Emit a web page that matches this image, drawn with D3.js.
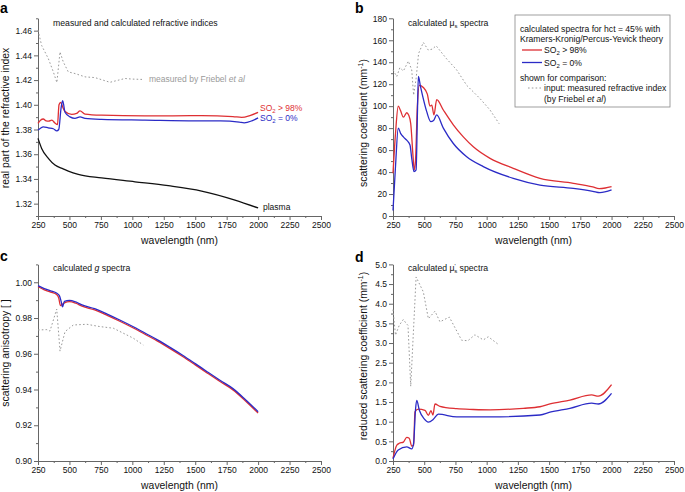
<!DOCTYPE html>
<html><head><meta charset="utf-8">
<script src="https://cdn.jsdelivr.net/npm/d3@7"></script>
<style>
body{margin:0;background:#fff}
svg{display:block;font-family:"Liberation Sans",Arial,sans-serif}
</style>
</head><body>
<svg id="chart" width="685" height="492"></svg>
<script>
// ---------- shared ticks ----------
const xTickValues = [250,500,750,1000,1250,1500,1750,2000,2250,2500];
const xMinorValues = [375,625,875,1125,1375,1625,1875,2125,2375];

// ---------- panel a : refractive index ----------
const aMeasWl = [250,279,332,372,400,425,451,491,544,624,703,822,942,1000,1087];
const aMeas   = [1.4603,1.4480,1.4374,1.4266,1.4180,1.4428,1.4347,1.4266,1.4253,1.4226,1.4220,1.4182,1.4213,1.4208,1.4205];
const aRedWl  = [250,270,292,315,335,360,385,405,417,430,445,465,518,557,584,624,756,1100,1551,1800,1869,1940,2000];
const aRed    = [1.3849,1.3875,1.3885,1.3870,1.3868,1.3876,1.3852,1.3840,1.4000,1.4020,1.3985,1.3945,1.3922,1.3930,1.3950,1.3925,1.3916,1.3910,1.3912,1.3905,1.3898,1.3915,1.3938];
const aBlueWl = [250,270,292,332,372,399,415,433,446,465,504,544,584,624,756,1100,1500,1700,1850,1889,1950,2000];
const aBlue   = [1.3795,1.3810,1.3822,1.3814,1.3806,1.3789,1.3800,1.3970,1.4034,1.3940,1.3902,1.3890,1.3902,1.3890,1.3882,1.3876,1.3870,1.3870,1.3860,1.3854,1.3870,1.3894];
const aPlasmaWl = [250,279,332,385,450,491,570,756,1021,1286,1551,1816,2000];
const aPlasma   = [1.3728,1.3647,1.3566,1.3512,1.3482,1.3464,1.3437,1.3408,1.3377,1.3345,1.3302,1.3229,1.3165];
const aYTicks = [1.32,1.34,1.36,1.38,1.40,1.42,1.44,1.46];
const aYMinor = [1.31,1.33,1.35,1.37,1.39,1.41,1.43,1.45,1.47];

// ---------- panel b : mu_s ----------
const bMeasWl = [250,280,305,333,373,400,415,435,455,493,533,565,595,680,760,840,946,1027,1100];
const bMeas   = [133,127,135,132,141,133,110,125,148,158,151,152,155,143,133,119,107,96.5,84];
const bRedWl  = [250,270,292,310,333,360,375,392,410,420,430,445,461,493,525,546,560,578,600,653,733,813,893,1027,1213,1427,1694,1850,1900,1950,2000];
const bRed    = [39,75,100,96,90,94,92,84,55,42,50,100,119,117,111,100,101,92,106,96.5,83,72,63,52.5,43.4,34.3,29.8,26.5,25,25.5,26.7];
const bBlueWl = [250,270,292,312,333,360,386,400,418,435,445,453,470,490,520,552,575,600,653,733,840,973,1213,1427,1694,1850,1907,2000];
const bBlue   = [5,45,80,75,72,69,64.6,52.5,40.4,42,90,127,118,108,95,86,87,92,80,66,54,45,34.3,28.2,25.2,22.5,21.2,23.7];
const bYTicks = [0,20,40,60,80,100,120,140,160,180];
const bYMinor = [10,30,50,70,90,110,130,150,170];

// ---------- panel c : g ----------
const cMeasWl = [250,320,345,399,425,465,531,637,743,849,1008,1087];
const cMeas   = [0.9733,0.9735,0.9727,0.9850,0.9615,0.9724,0.9761,0.9765,0.9752,0.9743,0.9687,0.9649];
const cRedWl  = [250,300,350,400,415,428,440,460,500,550,600,700,800,900,1000,1100,1200,1300,1400,1500,1600,1700,1800,1900,2000];
const cRed    = [0.9975,0.9958,0.9945,0.9930,0.9912,0.9870,0.9874,0.9885,0.9892,0.9883,0.9866,0.9845,0.9815,0.9782,0.9747,0.9709,0.9671,0.9629,0.9585,0.9538,0.9490,0.9443,0.9398,0.9336,0.9268];
const cBlueWl = [250,300,350,400,420,435,445,460,500,550,600,700,800,900,1000,1100,1200,1300,1400,1500,1600,1700,1800,1900,2000];
const cBlue   = [0.9981,0.9965,0.9952,0.9938,0.9925,0.9890,0.9862,0.9893,0.9899,0.9890,0.9873,0.9852,0.9822,0.9789,0.9754,0.9716,0.9678,0.9636,0.9592,0.9545,0.9497,0.9450,0.9405,0.9343,0.9276];
const cYTicks = [0.90,0.92,0.94,0.96,0.98,1.00];
const cYMinor = [0.91,0.93,0.95,0.97,0.99,1.01];

// ---------- panel d : mu_s' ----------
const dMeasWl = [250,270,300,333,355,370,392,435,493,533,586,626,701,800,850,906,973,1013,1100];
const dMeas   = [3.85,3.2,3.45,3.6,3.5,3.45,1.9,4.68,4.3,3.62,3.81,3.54,3.66,3.07,3.06,3.21,3.08,3.16,2.95];
const dRedWl  = [250,280,300,333,360,380,400,415,426,453,506,533,554,570,586,626,760,893,1027,1293,1427,1507,1667,1841,1894,2000];
const dRed    = [0.07,0.40,0.45,0.48,0.60,0.58,0.38,0.40,1.25,1.32,1.29,1.16,1.28,1.17,1.45,1.39,1.33,1.31,1.30,1.34,1.38,1.45,1.55,1.68,1.65,1.94];
const dBlueWl = [250,292,360,400,415,430,440,461,500,533,573,613,760,1027,1427,1507,1667,1841,1894,2000];
const dBlue   = [0.05,0.28,0.36,0.31,0.45,1.30,1.54,1.29,1.07,0.99,1.06,1.19,1.12,1.12,1.17,1.24,1.34,1.47,1.45,1.72];
const dYTicks = [0,0.5,1,1.5,2,2.5,3,3.5,4,4.5,5];
const dYMinor = [0.25,0.75,1.25,1.75,2.25,2.75,3.25,3.75,4.25,4.75];

const RED = "#de2f33", BLUE = "#2b2bc6", GREY = "#9a9a9a", AXIS = "#666";
const svg = d3.select("#chart");

function panel(o) {
  const x = d3.scaleLinear().domain([250, 2500]).range([o.x0, o.x1]);
  const y = d3.scaleLinear().domain(o.yDomain).range([o.yBottom, o.yTop]);
  const g = svg.append("g");

  const styleAxis = sel => {
    sel.selectAll(".domain").attr("stroke", AXIS);
    sel.selectAll(".tick line").attr("stroke", AXIS);
    sel.selectAll(".tick text").attr("fill", "#111").attr("font-size", "8.5px")
       .attr("font-family", "'Liberation Sans',Arial,sans-serif");
  };
  g.append("g").attr("transform", `translate(0,${o.yBottom})`)
    .call(d3.axisBottom(x).tickValues(xMinorValues).tickSize(2).tickSizeOuter(0).tickFormat(""))
    .call(styleAxis);
  g.append("g").attr("transform", `translate(0,${o.yBottom})`)
    .call(d3.axisBottom(x).tickValues(xTickValues).tickSize(4).tickSizeOuter(0).tickPadding(2).tickFormat(d3.format("d")))
    .call(styleAxis);
  g.append("g").attr("transform", `translate(${o.x0},0)`)
    .call(d3.axisLeft(y).tickValues(o.yMinor).tickSize(2).tickSizeOuter(0).tickFormat(""))
    .call(styleAxis);
  g.append("g").attr("transform", `translate(${o.x0},0)`)
    .call(d3.axisLeft(y).tickValues(o.yTicks).tickSize(4).tickSizeOuter(0).tickPadding(2).tickFormat(o.fmt))
    .call(styleAxis);

  const line = d3.line().x(d => x(d[0])).y(d => y(d[1]));
  const smooth = d3.line().x(d => x(d[0])).y(d => y(d[1])).curve(d3.curveMonotoneX);
  for (const s of o.series) {
    g.append("path").datum(d3.zip(s.wl, s.v))
      .attr("fill", "none").attr("stroke", s.color)
      .attr("stroke-width", s.dash ? 1 : 1.3)
      .attr("stroke-dasharray", s.dash ? "1.6,2.2" : null)
      .attr("stroke-linejoin", "round")
      .attr("d", s.dash ? line : smooth);
  }

  g.append("text").attr("x", (o.x0 + x(2500)) / 2).attr("y", o.xTitleY)
    .attr("text-anchor", "middle").attr("font-size", "10.4px").attr("fill", "#111")
    .text("wavelength (nm)");
  const yt = g.append("text")
    .attr("transform", `translate(${o.yTitleX},${o.yTitleCY}) rotate(-90)`)
    .attr("text-anchor", "middle").attr("font-size", "10.4px").attr("fill", "#111");
  o.yTitle(yt);
  g.append("text").attr("x", o.letterX).attr("y", o.letterY)
    .attr("font-size", "14px").attr("font-weight", "bold").attr("fill", "#000").text(o.letter);
  const tt = g.append("text").attr("x", o.titleX).attr("y", o.titleY)
    .attr("font-size", "8.7px").attr("fill", "#111");
  o.title(tt);
  return {x, y, g};
}

// ---------- panel a ----------
const pa = panel({
  x0: 38, x1: 321, yBottom: 216, yTop: 18.3, yDomain: [1.31, 1.47],
  yTicks: aYTicks, yMinor: aYMinor, fmt: d3.format(".2f"),
  series: [
    {wl: aMeasWl, v: aMeas, color: GREY, dash: true},
    {wl: aPlasmaWl, v: aPlasma, color: "#111"},
    {wl: aRedWl, v: aRed, color: RED},
    {wl: aBlueWl, v: aBlue, color: BLUE}
  ],
  xTitleY: 244, yTitleX: 9, yTitleCY: 118,
  yTitle: t => t.text("real part of the refractive index"),
  letter: "a", letterX: 0, letterY: 13,
  titleX: 53, titleY: 25.5,
  title: t => t.text("measured and calculated refractive indices")
});
{
  const t1 = pa.g.append("text").attr("x", 149).attr("y", 82).attr("font-size", "8.5px").attr("fill", GREY);
  t1.append("tspan").text("measured by Friebel ");
  t1.append("tspan").attr("font-style", "italic").text("et al");
  const r = pa.g.append("text").attr("x", 260).attr("y", 111).attr("font-size", "8.5px").attr("fill", RED);
  r.append("tspan").text("SO");
  r.append("tspan").attr("font-size", "6px").attr("dy", 2).text("2");
  r.append("tspan").attr("dy", -2).text(" > 98%");
  const b = pa.g.append("text").attr("x", 260).attr("y", 121).attr("font-size", "8.5px").attr("fill", BLUE);
  b.append("tspan").text("SO");
  b.append("tspan").attr("font-size", "6px").attr("dy", 2).text("2");
  b.append("tspan").attr("dy", -2).text(" = 0%");
  pa.g.append("text").attr("x", 263).attr("y", 210).attr("font-size", "8.5px").attr("fill", "#111").text("plasma");
}

// ---------- panel b ----------
const pb = panel({
  x0: 393, x1: 674, yBottom: 216, yTop: 18.3, yDomain: [0, 180],
  yTicks: bYTicks, yMinor: bYMinor, fmt: d3.format("d"),
  series: [
    {wl: bMeasWl, v: bMeas, color: GREY, dash: true},
    {wl: bRedWl, v: bRed, color: RED},
    {wl: bBlueWl, v: bBlue, color: BLUE}
  ],
  xTitleY: 244, yTitleX: 367, yTitleCY: 123,
  yTitle: t => { t.append("tspan").text("scattering coefficient (mm");
                 t.append("tspan").attr("font-size", "7px").attr("dy", -4).text("-1");
                 t.append("tspan").attr("dy", 4).text(")"); },
  letter: "b", letterX: 355, letterY: 13,
  titleX: 408, titleY: 25.5,
  title: t => { t.append("tspan").text("calculated \u03bc");
                t.append("tspan").attr("font-size", "6px").attr("dy", 2).text("s");
                t.append("tspan").attr("dy", -2).text(" spectra"); }
});
{
  const L = pb.g.append("g");
  L.append("rect").attr("x", 515).attr("y", 15).attr("width", 155).attr("height", 92)
    .attr("fill", "#fff").attr("stroke", "#888").attr("stroke-width", 0.8);
  const fs = "8.6px";
  L.append("text").attr("x", 520).attr("y", 32).attr("font-size", fs).attr("fill", "#111").text("calculated spectra for hct = 45% with");
  L.append("text").attr("x", 520).attr("y", 42).attr("font-size", fs).attr("fill", "#111").text("Kramers-Kronig/Percus-Yevick theory");
  L.append("line").attr("x1", 522).attr("x2", 542).attr("y1", 50).attr("y2", 50).attr("stroke", RED).attr("stroke-width", 1.3);
  const r = L.append("text").attr("x", 544).attr("y", 53).attr("font-size", fs).attr("fill", "#111");
  r.append("tspan").text("SO"); r.append("tspan").attr("font-size", "6px").attr("dy", 2).text("2"); r.append("tspan").attr("dy", -2).text(" > 98%");
  L.append("line").attr("x1", 522).attr("x2", 542).attr("y1", 62.5).attr("y2", 62.5).attr("stroke", BLUE).attr("stroke-width", 1.3);
  const b = L.append("text").attr("x", 544).attr("y", 65.5).attr("font-size", fs).attr("fill", "#111");
  b.append("tspan").text("SO"); b.append("tspan").attr("font-size", "6px").attr("dy", 2).text("2"); b.append("tspan").attr("dy", -2).text(" = 0%");
  L.append("text").attr("x", 520).attr("y", 80.5).attr("font-size", fs).attr("fill", "#111").text("shown for comparison:");
  L.append("line").attr("x1", 528).attr("x2", 542).attr("y1", 88).attr("y2", 88).attr("stroke", GREY).attr("stroke-width", 1).attr("stroke-dasharray", "1.6,2.2");
  L.append("text").attr("x", 544).attr("y", 91).attr("font-size", fs).attr("fill", "#111").text("input: measured refractive index");
  const f = L.append("text").attr("x", 544).attr("y", 102).attr("font-size", fs).attr("fill", "#111");
  f.append("tspan").text("(by Friebel "); f.append("tspan").attr("font-style", "italic").text("et al"); f.append("tspan").text(")");
}

// ---------- panel c ----------
panel({
  x0: 38, x1: 321, yBottom: 461, yTop: 264.4, yDomain: [0.90, 1.01],
  yTicks: cYTicks, yMinor: cYMinor, fmt: d3.format(".2f"),
  series: [
    {wl: cMeasWl, v: cMeas, color: GREY, dash: true},
    {wl: cRedWl, v: cRed, color: RED},
    {wl: cBlueWl, v: cBlue, color: BLUE}
  ],
  xTitleY: 489, yTitleX: 9, yTitleCY: 353,
  yTitle: t => { t.append("tspan").text("scattering anisotropy [ ]"); },
  letter: "c", letterX: 0, letterY: 261,
  titleX: 53, titleY: 270.5,
  title: t => { t.append("tspan").text("calculated ");
                t.append("tspan").attr("font-style", "italic").text("g");
                t.append("tspan").text(" spectra"); }
});

// ---------- panel d ----------
panel({
  x0: 393, x1: 674, yBottom: 461, yTop: 264.4, yDomain: [0, 5],
  yTicks: dYTicks, yMinor: dYMinor, fmt: d3.format(".1f"),
  series: [
    {wl: dMeasWl, v: dMeas, color: GREY, dash: true},
    {wl: dRedWl, v: dRed, color: RED},
    {wl: dBlueWl, v: dBlue, color: BLUE}
  ],
  xTitleY: 489, yTitleX: 367, yTitleCY: 356,
  yTitle: t => { t.append("tspan").text("reduced scattering coefficient (mm");
                 t.append("tspan").attr("font-size", "7px").attr("dy", -4).text("-1");
                 t.append("tspan").attr("dy", 4).text(")"); },
  letter: "d", letterX: 355, letterY: 262,
  titleX: 408, titleY: 270.5,
  title: t => { t.append("tspan").text("calculated \u03bc");
                t.append("tspan").attr("font-size", "6px").attr("dy", -3).text("'");
                t.append("tspan").attr("font-size", "6px").attr("dx", -1.5).attr("dy", 5).text("s");
                t.append("tspan").attr("dy", -2).text(" spectra"); }
});
</script>
</body></html>
